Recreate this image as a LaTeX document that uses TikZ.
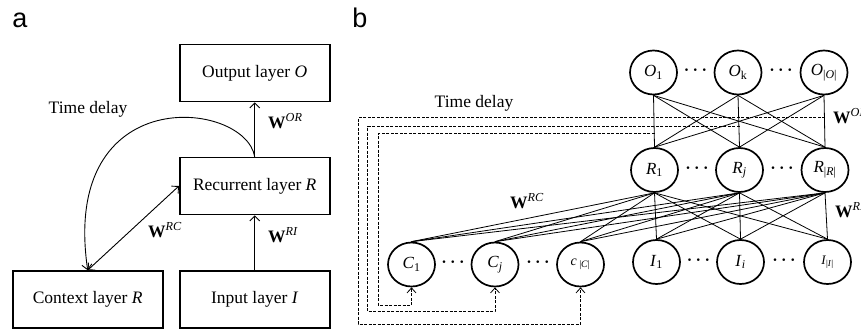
\documentclass[tikz,border=0pt]{standalone}
\usepackage{fontspec}
\setmainfont{Liberation Serif}
\newfontfamily\panelfont{Liberation Sans}
\usetikzlibrary{shapes.geometric,arrows.meta}
\newcommand{\myit}[1]{\textit{#1}}
\newcommand{\myW}[1]{\textbf{W}\textsuperscript{\textit{#1}}}
\begin{document}
\begin{tikzpicture}[x=1pt,y=-1pt,
  box/.style={draw,line width=1.6pt,minimum width=150pt,minimum height=57pt,inner sep=0pt,font=\fontsize{17.5}{20}\selectfont},
  unit/.style={draw,ellipse,line width=1.7pt,minimum width=47pt,minimum height=44pt,inner sep=0pt,font=\fontsize{17}{20}\selectfont},
  conn/.style={line width=0.8pt},
  arr/.style={line width=0.9pt,-{Straight Barb[length=5pt,width=10pt]}},
  darr/.style={line width=0.9pt,{Straight Barb[length=5pt,width=10pt]}-{Straight Barb[length=5pt,width=10pt]}},
  dline/.style={line width=0.8pt,dash pattern=on 3pt off 1.5pt},
  dlarr/.style={dline,-{Straight Barb[length=5pt,width=9pt]}},
  lab/.style={font=\fontsize{17.5}{20}\selectfont,inner sep=0pt},
  dots/.style={font=\fontsize{16}{16}\selectfont\boldmath,inner sep=0pt},
  panel/.style={font=\panelfont\fontsize{27}{30}\selectfont,inner sep=0pt,anchor=base},
]
\useasboundingbox (0,0) rectangle (861,335);
\clip (0,0) rectangle (861,335);

% ---------- panel a ----------
\node[panel] (pa) at (20,27) {a};
\node[box] (out) at (254.7,73) {Output layer \myit{O}};
\node[box] (rec) at (254.7,186) {Recurrent layer \myit{R}};
\node[box] (ctx) at (87.7,299.5) {Context layer \myit{R}};
\node[box] (inp) at (254.7,299.5) {Input layer \myit{I}};

\draw[arr] (inp.north) -- (rec.south);
\draw[arr] (rec.north) -- (out.south);
\draw[darr] (ctx.north) -- (rec.west);
\draw[arr] (rec.north) .. controls (245,100) and (60,80) .. (ctx.north);

\node[lab,anchor=base] (tda) at (88,113) {Time delay};
\node[lab,anchor=base west] (wor) at (268,128) {\myW{OR}};
\node[lab,anchor=base west] (wri) at (268,242) {\myW{RI}};
\node[lab,anchor=base west] (wrc) at (148,237) {\myW{RC}};

% ---------- panel b ----------
\node[panel] (pb) at (360,27) {b};

\node[unit] (O1) at (653.5,72.5) {\myit{O}\textsubscript{1}};
\node[unit] (O2) at (738,72.5) {\myit{O}\textsubscript{k}};
\node[unit] (O3) at (824,72.5) {\myit{O}\textsubscript{|\myit{O}|}};

\node[unit] (R1) at (654.5,170) {\myit{R}\textsubscript{1}};
\node[unit] (R2) at (739.5,170) {\myit{R}\textsubscript{\myit{j}}};
\node[unit] (R3) at (825,170) {\myit{R}\textsubscript{|\myit{R}|}};

\node[unit] (I1) at (656.5,262) {\myit{I}\textsubscript{1}};
\node[unit] (I2) at (740.5,262) {\myit{I}\textsubscript{\myit{i}}};
\node[unit] (I3) at (827.5,262) {\fontsize{13}{15}\selectfont\myit{I}\textsubscript{|\myit{I}|}};

\node[unit] (C1) at (411.5,264.5) {\myit{C}\textsubscript{1}};
\node[unit] (C2) at (495,264.5) {\myit{C}\textsubscript{\myit{j}}};
\node[unit] (C3) at (580.5,264.5) {\fontsize{14}{16}\selectfont\myit{c}\,\textsubscript{|\myit{C}|}};

\node[dots] (dO1) at (695.5,70) {$\cdots$};
\node[dots] (dO2) at (781,70) {$\cdots$};
\node[dots] (dR1) at (697,168) {$\cdots$};
\node[dots] (dR2) at (782,168) {$\cdots$};
\node[dots] (dI1) at (698.5,260) {$\cdots$};
\node[dots] (dI2) at (784,260) {$\cdots$};
\node[dots] (dC1) at (453,262.5) {$\cdots$};
\node[dots] (dC2) at (538,262.5) {$\cdots$};

\foreach \a in {O1,O2,O3}
  \foreach \b in {R1,R2,R3}
    \draw[conn] (\a.south) -- (\b.north);
\foreach \a in {R1,R2,R3}
  \foreach \b in {I1,I2,I3,C1,C2,C3}
    \draw[conn] (\a.south) -- (\b.north);

% time delay dashed feedback lines
\coordinate (t3) at (R3.north |- 0,117.5);
\coordinate (t2) at (R2.north |- 0,126.5);
\coordinate (t1) at (R1.north |- 0,133.5);
\draw[dlarr] (t3) -- (358,117.5) -- (358,324) -- (C3.south |- 0,324) -- (C3.south);
\draw[dlarr] (t2) -- (367.5,126.5) -- (367.5,311.5) -- (C2.south |- 0,311.5) -- (C2.south);
\draw[dlarr] (t1) -- (378,133.5) -- (378,305) -- (C1.south |- 0,305) -- (C1.south);

\node[lab,anchor=base] (tdb) at (474,107) {Time delay};
\node[lab,anchor=base west] (wrcb) at (510,208) {\myW{RC}};
\node[lab,anchor=base west] (worb) at (833,123) {\myW{OR}};
\node[lab,anchor=base west] (wrib) at (835,217) {\myW{RI}};
\end{tikzpicture}
\end{document}
